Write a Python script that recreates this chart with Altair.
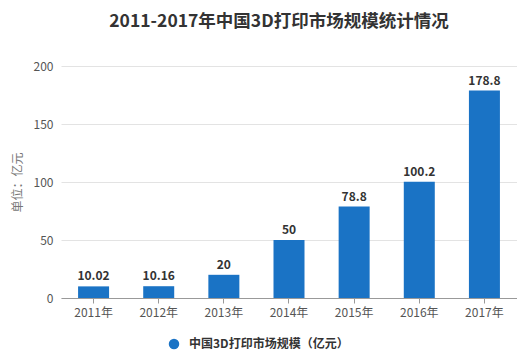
import altair as alt
import pandas as pd

years = ["2011年", "2012年", "2013年", "2014年", "2015年", "2016年", "2017年"]
values = [10.02, 10.16, 20, 50, 78.8, 100.2, 178.8]
labels = ["10.02", "10.16", "20", "50", "78.8", "100.2", "178.8"]
series = "中国3D打印市场规模（亿元）"

df = pd.DataFrame({"year": years, "value": values, "label": labels, "series": [series] * len(years)})

FONT = "Noto Sans CJK SC"
BLUE = "#1a73c5"

base = alt.Chart(df)

bars = base.mark_bar(color=BLUE, width=31).encode(
    x=alt.X("year:N", sort=years, title=None,
            scale=alt.Scale(paddingInner=0.52, paddingOuter=0.26),
            axis=alt.Axis(labelAngle=0, labelColor="#555", labelFontSize=12, labelFont=FONT,
                          domainColor="#999", tickColor="#999", tickSize=5, labelPadding=4,
                          grid=False)),
    y=alt.Y("value:Q", title="单位：亿元", scale=alt.Scale(domain=[0, 200]),
            axis=alt.Axis(values=[0, 50, 100, 150, 200], labelColor="#555", labelFontSize=12,
                          labelFont=FONT, domain=False, ticks=False, labelPadding=8,
                          gridColor="#e3e3e3", titleColor="#777", titleFontSize=12,
                          titleFont=FONT, titleFontWeight="normal", titlePadding=9)),
    color=alt.Color("series:N", scale=alt.Scale(range=[BLUE]),
                    legend=alt.Legend(title=None, orient="none", legendX=107, legendY=272,
                                      symbolType="circle", symbolSize=110, labelFontSize=12,
                                      labelFont=FONT, labelColor="#333", labelFontWeight="bold",
                                      labelOffset=9, symbolStrokeWidth=0)),
)

text = base.mark_text(dy=-10, fontSize=12, fontWeight="bold", color="#333", font=FONT).encode(
    x=alt.X("year:N", sort=years),
    y=alt.Y("value:Q"),
    text="label:N",
)

chart = (bars + text).properties(
    width=456, height=232,
    autosize=alt.AutoSizeParams(type="none"),
    padding={"left": 53, "top": 58, "right": 0, "bottom": 52},
    title=alt.TitleParams("2011-2017年中国3D打印市场规模统计情况", font=FONT, fontSize=17.5,
                          fontWeight="bold", color="#333", anchor="middle", dx=-10, offset=30),
).configure_view(stroke=None)

chart.save("out.html", embed_options={"renderer": "svg", "actions": False})
